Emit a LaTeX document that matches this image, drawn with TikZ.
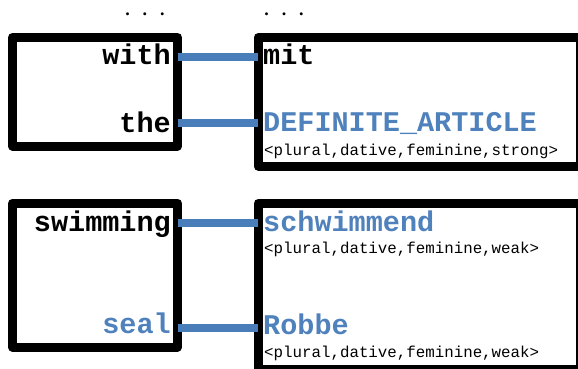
\documentclass[tikz,border=0pt]{standalone}
\usepackage{fontspec}
\setmonofont{Liberation Mono}
\newfontfamily\dotfont{Liberation Serif}
\definecolor{lnblue}{HTML}{4A7EBB}
\definecolor{txblue}{HTML}{4F81BD}
\newcommand{\mydots}{.\hspace{12.8pt}.\hspace{12.8pt}.}
\begin{document}
\begin{tikzpicture}[x=1pt,y=-1pt,
  frame/.style={draw=black,line width=9pt,line join=round},
  link/.style={draw=lnblue,line width=8pt},
  big/.style={font=\ttfamily\bfseries\fontsize{28.5}{30}\selectfont,inner sep=0pt},
  small/.style={font=\ttfamily\fontsize{15.8}{17}\selectfont,inner sep=0pt},
  dots/.style={font=\dotfont\bfseries\fontsize{18}{19}\selectfont,inner sep=0pt,text height=4pt,text depth=0pt,anchor=base},
  src/.style={big,anchor=base east},
  tgt/.style={big,anchor=base west},
  feat/.style={small,anchor=base west},
]
\useasboundingbox[fill=white] (0,0) rectangle (578,369);
% frames
\draw[frame] (12.5,37.5) rectangle (177.5,146);
\draw[frame] (258,37.5) rectangle (580.5,166);
\draw[frame] (12.5,203) rectangle (177.5,347);
\draw[frame] (258,203) rectangle (580.5,369.5);
% dots
\node[dots] (dotsL) at (145,16) {\mydots};
\node[dots] (dotsR) at (284,16) {\mydots};
% source words
\node[src] (with) at (171,65) {with};
\node[src] (the) at (171,132) {the};
\node[src] (swim) at (171,231) {swimming};
\node[src,text=txblue] (seal) at (171,333) {seal};
% target words
\node[tgt] (mit) at (263,64) {mit};
\node[tgt,text=txblue] (defart) at (263,131.5) {DEFINITE\_ARTICLE};
\node[feat] (f1) at (264,155) {<plural,dative,feminine,strong>};
\node[tgt,text=txblue] (schw) at (263,231.5) {schwimmend};
\node[feat] (f2) at (264,253.5) {<plural,dative,feminine,weak>};
\node[tgt,text=txblue] (robbe) at (263,334.5) {Robbe};
\node[feat] (f3) at (264,357) {<plural,dative,feminine,weak>};
% connectors
\coordinate (a1) at (178,56.7); \coordinate (b1) at (258,56.7);
\coordinate (a2) at (178,122.5); \coordinate (b2) at (258,122.5);
\coordinate (a3) at (178,222.5); \coordinate (b3) at (258,222.5);
\coordinate (a4) at (178,328.3); \coordinate (b4) at (258,328.3);
\draw[link] (a1) -- (b1);
\draw[link] (a2) -- (b2);
\draw[link] (a3) -- (b3);
\draw[link] (a4) -- (b4);
\end{tikzpicture}
\end{document}
